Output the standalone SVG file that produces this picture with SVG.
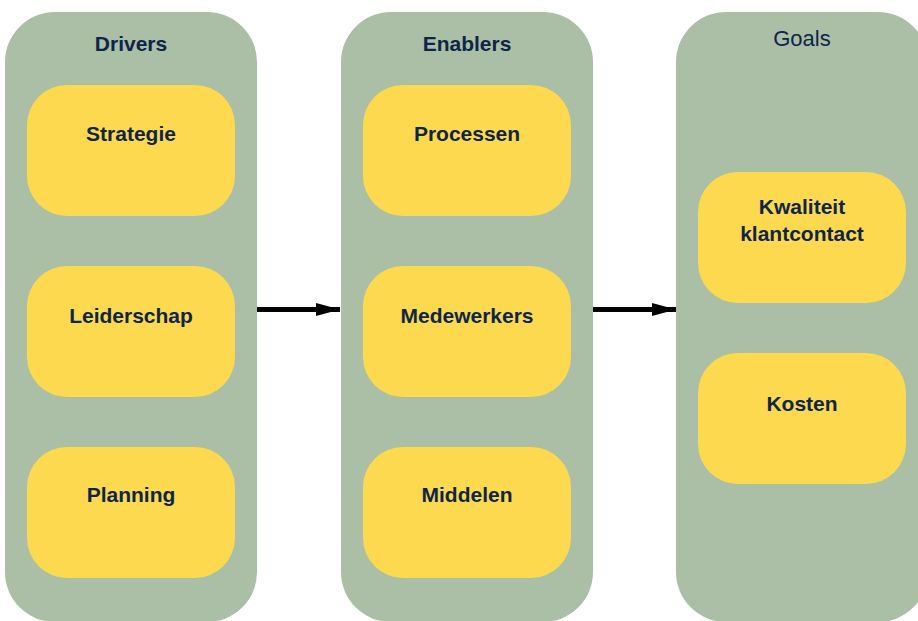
<svg xmlns="http://www.w3.org/2000/svg" width="918" height="621" viewBox="0 0 918 621">
  <style>
    .col { fill: #aabfa6; }
    .box { fill: #fdd94f; }
    .t { font-family: "Liberation Sans", Arial, sans-serif; font-size: 21px; font-weight: bold; fill: #0f2548; text-anchor: middle; }
    .tl { font-weight: normal; font-size: 22px; }
    .arrow { stroke: #000; stroke-width: 5; fill: none; }
  </style>
  <defs>
    <marker id="head" markerUnits="userSpaceOnUse" markerWidth="26" markerHeight="14" refX="24" refY="7" orient="auto">
      <polygon points="0,0.5 24,7 0,13.5" fill="#000"/>
    </marker>
  </defs>
  <rect width="918" height="621" fill="#fff"/>

  <!-- Drivers column -->
  <g id="drivers">
    <rect class="col" x="5" y="12" width="252" height="610" rx="50"/>
    <text class="t" x="131" y="51">Drivers</text>
  </g>
  <g id="strategie">
    <rect class="box" x="27" y="85" width="208" height="131" rx="40"/>
    <text class="t" x="131" y="141">Strategie</text>
  </g>
  <g id="leiderschap">
    <rect class="box" x="27" y="266" width="208" height="131" rx="40"/>
    <text class="t" x="131" y="323">Leiderschap</text>
  </g>
  <g id="planning">
    <rect class="box" x="27" y="447" width="208" height="131" rx="40"/>
    <text class="t" x="131" y="502">Planning</text>
  </g>

  <!-- Enablers column -->
  <g id="enablers">
    <rect class="col" x="341" y="12" width="252" height="610" rx="50"/>
    <text class="t" x="467" y="51">Enablers</text>
  </g>
  <g id="processen">
    <rect class="box" x="363" y="85" width="208" height="131" rx="40"/>
    <text class="t" x="467" y="141">Processen</text>
  </g>
  <g id="medewerkers">
    <rect class="box" x="363" y="266" width="208" height="131" rx="40"/>
    <text class="t" x="467" y="323">Medewerkers</text>
  </g>
  <g id="middelen">
    <rect class="box" x="363" y="447" width="208" height="131" rx="40"/>
    <text class="t" x="467" y="502">Middelen</text>
  </g>

  <!-- Goals column -->
  <g id="goals">
    <rect class="col" x="676" y="12" width="252" height="610" rx="50"/>
    <text class="t tl" x="802" y="46">Goals</text>
  </g>
  <g id="kwaliteit">
    <rect class="box" x="698" y="172" width="208" height="131" rx="40"/>
    <text class="t" x="802" y="214">Kwaliteit</text>
    <text class="t" x="802" y="241">klantcontact</text>
  </g>
  <g id="kosten">
    <rect class="box" x="698" y="353" width="208" height="131" rx="40"/>
    <text class="t" x="802" y="411">Kosten</text>
  </g>

  <!-- Connectors -->
  <g id="connectors">
    <line class="arrow" x1="257" y1="309.5" x2="340" y2="309.5" marker-end="url(#head)"/>
    <line class="arrow" x1="593" y1="309.5" x2="676" y2="309.5" marker-end="url(#head)"/>
  </g>
</svg>
